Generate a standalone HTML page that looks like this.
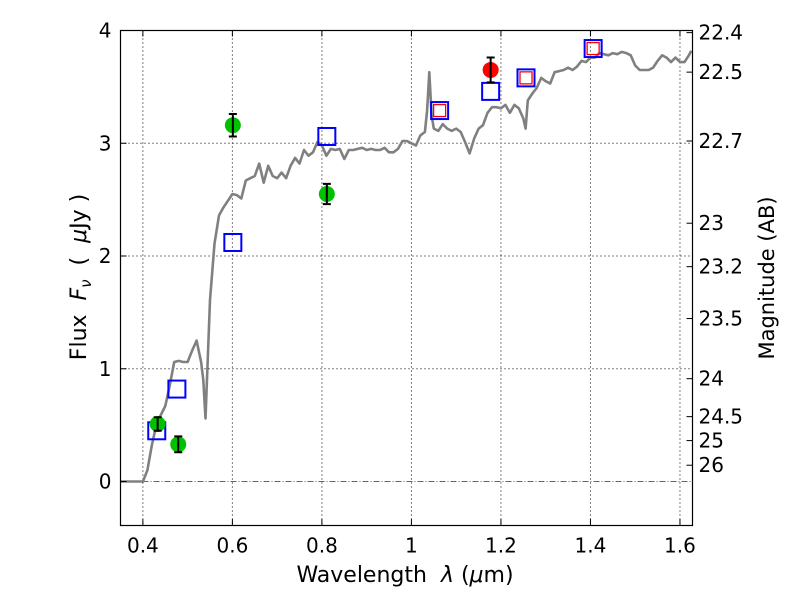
<!DOCTYPE html>
<html><head><meta charset="utf-8"><style>
body{margin:0;background:#fff}
svg text{font-family:"DejaVu Sans","Liberation Sans",sans-serif;fill:#000;white-space:pre}
</style></head><body>
<svg id="chart" width="800" height="600" xmlns="http://www.w3.org/2000/svg" xml:space="preserve">
<rect width="800" height="600" fill="#fff"/>
<g id="grid"></g>
<line id="zero" stroke="#333" stroke-width="0.8" stroke-dasharray="6,2,1,2"/>
<g id="marks"></g>
<rect x="120.5" y="30.5" width="572" height="495" fill="none" stroke="#000" stroke-width="1.2"/>
<g id="axes"></g>
<text x="405" y="582" font-size="22" text-anchor="middle">Wavelength  <tspan font-style="italic">λ</tspan> (<tspan font-style="italic">μ</tspan>m)</text>
<text transform="translate(86,277) rotate(-90)" font-size="22" text-anchor="middle">Flux  <tspan font-style="italic">F</tspan><tspan font-style="italic" font-size="15" dy="5">ν</tspan><tspan dy="-5">  (  </tspan><tspan font-style="italic">μ</tspan>Jy )</text>
<text transform="translate(774,278) rotate(-90)" font-size="21" text-anchor="middle">Magnitude (AB)</text>
</svg>
<script>
const specLam=[0.35,0.36,0.37,0.38,0.39,0.40,0.41,0.42,0.43,0.44,0.45,0.46,0.47,0.48,0.49,0.50,0.51,0.52,0.53,0.535,0.54,0.55,0.56,0.57,0.58,0.59,0.60,0.61,0.62,0.63,0.64,0.65,0.66,0.67,0.68,0.69,0.70,0.71,0.72,0.73,0.74,0.75,0.76,0.77,0.78,0.79,0.80,0.81,0.82,0.83,0.84,0.85,0.86,0.87,0.88,0.89,0.90,0.91,0.92,0.93,0.94,0.95,0.96,0.97,0.98,0.99,1.00,1.01,1.02,1.03,1.035,1.04,1.045,1.05,1.06,1.07,1.08,1.09,1.10,1.11,1.12,1.13,1.14,1.15,1.16,1.17,1.18,1.19,1.20,1.21,1.22,1.23,1.24,1.25,1.255,1.26,1.27,1.28,1.29,1.30,1.31,1.32,1.33,1.34,1.35,1.36,1.37,1.38,1.39,1.40,1.41,1.42,1.43,1.44,1.45,1.46,1.47,1.48,1.49,1.50,1.51,1.52,1.53,1.54,1.55,1.56,1.57,1.58,1.59,1.60,1.61,1.62,1.625];
const specFlux=[0,0,0,0,0,0,0.10,0.32,0.50,0.59,0.67,0.85,1.06,1.07,1.06,1.06,1.16,1.25,1.06,0.90,0.56,1.61,2.11,2.36,2.43,2.49,2.55,2.54,2.51,2.67,2.69,2.71,2.82,2.65,2.80,2.71,2.69,2.74,2.69,2.80,2.87,2.82,2.94,2.89,2.92,3.01,2.98,2.89,2.95,2.94,2.95,2.86,2.94,2.94,2.95,2.96,2.94,2.95,2.94,2.94,2.96,2.92,2.92,2.95,3.02,3.02,3.00,2.98,3.07,3.10,3.29,3.63,3.25,3.13,3.11,3.17,3.13,3.11,3.13,3.10,3.01,2.91,3.04,3.13,3.16,3.27,3.32,3.32,3.31,3.34,3.27,3.34,3.31,3.22,3.13,3.38,3.44,3.49,3.58,3.55,3.53,3.63,3.64,3.65,3.67,3.65,3.68,3.73,3.72,3.76,3.76,3.80,3.79,3.78,3.80,3.79,3.81,3.80,3.78,3.69,3.65,3.65,3.65,3.67,3.73,3.78,3.76,3.72,3.76,3.72,3.72,3.78,3.82];
const synLam=[0.431,0.476,0.601,0.811,1.063,1.177,1.256,1.406];
const synFlux=[0.45,0.82,2.12,3.06,3.29,3.46,3.58,3.84];
const obsLam=[1.063,1.256,1.406];
const obsFlux=[3.29,3.58,3.84];
const greenLam=[0.433,0.479,0.601,0.811];
const greenFlux=[0.51,0.33,3.16,2.55];
const greenErr=[0.06,0.07,0.10,0.09];
const redLam=[1.177];
const redFlux=[3.65];
const redErr=[0.11];
const xTicks=[0.4,0.6,0.8,1.0,1.2,1.4,1.6];
const xTickLabels=["0.4","0.6","0.8","1","1.2","1.4","1.6"];
const yTicks=[0,1,2,3,4];
const magTicks=[22.4,22.5,22.7,23,23.2,23.5,24,24.5,25,26];

const X0=120.5,X1=692.5,Y0=30.5,Y1=525.5;
const xmin=0.35,xmax=1.628,ymin=-0.39,ymax=4;
const sx=v=>X0+(v-xmin)/(xmax-xmin)*(X1-X0);
const sy=v=>Y1-(v-ymin)/(ymax-ymin)*(Y1-Y0);
const NS="http://www.w3.org/2000/svg";
function mk(parent,tag,attrs){const e=document.createElementNS(NS,tag);for(const k in attrs)e.setAttribute(k,attrs[k]);parent.appendChild(e);return e;}
const grid=document.getElementById('grid'),axes=document.getElementById('axes'),marks=document.getElementById('marks');
xTicks.forEach((t,i)=>{
  const x=sx(t);
  const g=mk(grid,'line',{x1:x,x2:x,y1:Y0,y2:Y1,stroke:'#000','stroke-width':1,'stroke-dasharray':'1,3'});
  
  
  const a=mk(axes,'line',{x1:x,x2:x,y1:Y1,y2:Y1-6,stroke:'#000'});
  
  
  const b=mk(axes,'line',{x1:x,x2:x,y1:Y0,y2:Y0+6,stroke:'#000'});
  
  
  const l=mk(axes,'text',{x:x,y:Y1+27,'font-size':20,'text-anchor':'middle'});
  l.textContent=xTickLabels[i];
  
  
});
yTicks.forEach(t=>{
  const y=sy(t);
  if(t!==0){const g=mk(grid,'line',{x1:X0,x2:X1,y1:y,y2:y,stroke:'#000','stroke-width':1,'stroke-dasharray':'1,3'});
  
  }
  const a=mk(axes,'line',{x1:X0,x2:X0+6,y1:y,y2:y,stroke:'#000'});
  
  
  const l=mk(axes,'text',{x:X0-9,y:y+7,'font-size':20,'text-anchor':'end'});
  l.textContent=String(t);
  
  
});
magTicks.forEach(m=>{
  const y=sy(Math.pow(10,(23.9-m)/2.5));
  const a=mk(axes,'line',{x1:X1,x2:X1-6,y1:y,y2:y,stroke:'#000'});
  
  
  const l=mk(axes,'text',{x:X1+6,y:y+7,'font-size':20});
  l.textContent=String(m);
  
  
});
const z=document.getElementById('zero');
z.setAttribute('x1',X0);z.setAttribute('x2',X1);z.setAttribute('y1',sy(0));z.setAttribute('y2',sy(0));
const pts=specLam.map((l,i)=>sx(l).toFixed(1)+','+sy(specFlux[i]).toFixed(1)).join(' ');
const sp=mk(marks,'polyline',{points:pts,fill:'none',stroke:'#808080','stroke-width':2.6,'stroke-linejoin':'round'});


synLam.forEach((l,i)=>{
  const s=mk(marks,'rect',{x:sx(l)-8.5,y:sy(synFlux[i])-8.5,width:17,height:17,fill:'none',stroke:'#0000ff','stroke-width':2});
  
  
});
obsLam.forEach((l,i)=>{
  const s=mk(marks,'rect',{x:sx(l)-6,y:sy(obsFlux[i])-6,width:12,height:12,fill:'none',stroke:'#ff0000','stroke-width':1.3});
  
  
});
function point(l,f,e,col,name){
  const c=mk(marks,'circle',{cx:sx(l),cy:sy(f),r:8,fill:col});
  
  
  const x=sx(l),ya=sy(f+e),yb=sy(f-e);
  const eb=mk(marks,'path',{d:`M${x},${ya}V${yb}M${x-4},${ya}H${x+4}M${x-4},${yb}H${x+4}`,stroke:'#000','stroke-width':2,fill:'none'});
  
  
}
greenLam.forEach((l,i)=>point(l,greenFlux[i],greenErr[i],'#00c000','photometry-point'));
redLam.forEach((l,i)=>point(l,redFlux[i],redErr[i],'#ff0000','nir-photometry-point'));
</script>
</body></html>
